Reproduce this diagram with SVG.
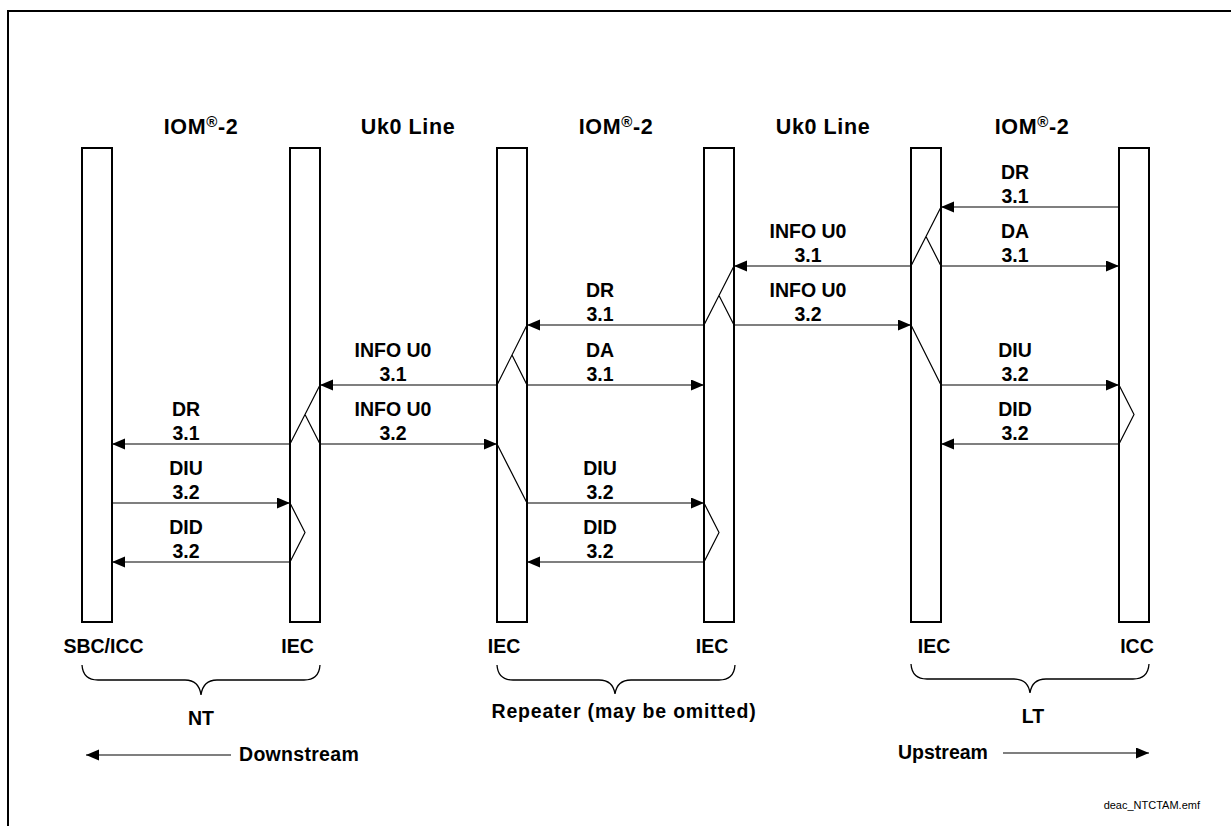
<svg xmlns="http://www.w3.org/2000/svg" width="1231" height="826" viewBox="0 0 1231 826">
<style>
  .bar{fill:#fff;stroke:#000;stroke-width:2}
  .ln{stroke:#000;stroke-width:1.2;fill:none}
  .ar{stroke:#000;stroke-width:1.2;fill:none;marker-end:url(#ah)}
  .br{stroke:#000;stroke-width:1.3;fill:none}
  text{font-family:"Liberation Sans",Arial,sans-serif;font-weight:bold;fill:#000}
  .hd{font-size:21.5px;letter-spacing:0.6px;text-anchor:middle}
  .lb{font-size:19.5px;text-anchor:middle}
  .nm{font-size:19.5px;text-anchor:middle}
  .ft{font-size:11px;font-weight:normal;text-anchor:end}
</style>
<defs>
  <marker id="ah" markerUnits="userSpaceOnUse" markerWidth="14" markerHeight="12" refX="13" refY="5.5" orient="auto">
    <path d="M0,0 L13,5.5 L0,11 z" fill="#000"/>
  </marker>
</defs>
<rect width="1231" height="826" fill="#fff"/>
<path d="M8,826 V11 H1231" fill="none" stroke="#000" stroke-width="2"/>

<g id="headers">
  <text class="hd" x="201" y="134">IOM<tspan font-size="15" dy="-7">®</tspan><tspan dy="7">-2</tspan></text>
  <text class="hd" x="408" y="134">Uk0 Line</text>
  <text class="hd" x="616" y="134">IOM<tspan font-size="15" dy="-7">®</tspan><tspan dy="7">-2</tspan></text>
  <text class="hd" x="823" y="134">Uk0 Line</text>
  <text class="hd" x="1032" y="134">IOM<tspan font-size="15" dy="-7">®</tspan><tspan dy="7">-2</tspan></text>
</g>

<g id="node-sbc-icc"><rect class="bar" x="82" y="148" width="30" height="474"/><text class="nm" x="103.5" y="653">SBC/ICC</text></g>
<g id="node-iec-nt"><rect class="bar" x="290" y="148" width="30" height="474"/><text class="nm" x="297.5" y="653">IEC</text></g>
<g id="node-iec-rep1"><rect class="bar" x="497" y="148" width="30" height="474"/><text class="nm" x="504" y="653">IEC</text></g>
<g id="node-iec-rep2"><rect class="bar" x="704" y="148" width="30" height="474"/><text class="nm" x="712" y="653">IEC</text></g>
<g id="node-iec-lt"><rect class="bar" x="911" y="148" width="30" height="474"/><text class="nm" x="934" y="653">IEC</text></g>
<g id="node-icc-lt"><rect class="bar" x="1119" y="148" width="30" height="474"/><text class="nm" x="1137" y="653">ICC</text></g>

<g id="connectors">
  <!-- internal diagonals -->
  <path class="ln" d="M911,266 L941,207 M926,236.5 L941,266 M911,325 L941,385"/>
  <path class="ln" d="M704,325 L734,266 M719,295.5 L734,325 M704,503 L719,532.5 L704,562"/>
  <path class="ln" d="M497,385 L527,325 M512,355 L527,385 M497,444 L527,503"/>
  <path class="ln" d="M290,444 L320,385 M305,414.5 L320,444 M290,503 L305,532.5 L290,562"/>
  <path class="ln" d="M1119,385 L1134,414.5 L1119,444"/>
  <!-- arrows -->
  <line class="ar" x1="1119" y1="207" x2="941" y2="207"/>
  <line class="ar" x1="911" y1="266" x2="734" y2="266"/>
  <line class="ar" x1="941" y1="266" x2="1119" y2="266"/>
  <line class="ar" x1="704" y1="325" x2="527" y2="325"/>
  <line class="ar" x1="734" y1="325" x2="911" y2="325"/>
  <line class="ar" x1="497" y1="385" x2="320" y2="385"/>
  <line class="ar" x1="527" y1="385" x2="704" y2="385"/>
  <line class="ar" x1="941" y1="385" x2="1119" y2="385"/>
  <line class="ar" x1="290" y1="444" x2="112" y2="444"/>
  <line class="ar" x1="320" y1="444" x2="497" y2="444"/>
  <line class="ar" x1="1119" y1="444" x2="941" y2="444"/>
  <line class="ar" x1="112" y1="503" x2="290" y2="503"/>
  <line class="ar" x1="527" y1="503" x2="704" y2="503"/>
  <line class="ar" x1="290" y1="562" x2="112" y2="562"/>
  <line class="ar" x1="704" y1="562" x2="527" y2="562"/>
  <!-- labels -->
  <g class="lbls">
    <text class="lb" x="1015" y="179">DR</text><text class="lb" x="1015" y="203">3.1</text>
    <text class="lb" x="808" y="238">INFO U0</text><text class="lb" x="808" y="262">3.1</text>
    <text class="lb" x="1015" y="238">DA</text><text class="lb" x="1015" y="262">3.1</text>
    <text class="lb" x="600" y="297">DR</text><text class="lb" x="600" y="321">3.1</text>
    <text class="lb" x="808" y="297">INFO U0</text><text class="lb" x="808" y="321">3.2</text>
    <text class="lb" x="393" y="357">INFO U0</text><text class="lb" x="393" y="381">3.1</text>
    <text class="lb" x="600" y="357">DA</text><text class="lb" x="600" y="381">3.1</text>
    <text class="lb" x="1015" y="357">DIU</text><text class="lb" x="1015" y="381">3.2</text>
    <text class="lb" x="186" y="416">DR</text><text class="lb" x="186" y="440">3.1</text>
    <text class="lb" x="393" y="416">INFO U0</text><text class="lb" x="393" y="440">3.2</text>
    <text class="lb" x="1015" y="416">DID</text><text class="lb" x="1015" y="440">3.2</text>
    <text class="lb" x="186" y="475">DIU</text><text class="lb" x="186" y="499">3.2</text>
    <text class="lb" x="600" y="475">DIU</text><text class="lb" x="600" y="499">3.2</text>
    <text class="lb" x="186" y="534">DID</text><text class="lb" x="186" y="558">3.2</text>
    <text class="lb" x="600" y="534">DID</text><text class="lb" x="600" y="558">3.2</text>
  </g>
</g>

<g id="groups">
  <path class="br" d="M82,665 Q83,680 98,680 H185 Q199,680 201,695 Q203,680 217,680 H304 Q319,680 320,665"/>
  <text class="nm" x="201" y="725">NT</text>
  <path class="br" d="M497,665 Q498,680 513,680 H599 Q613,680 615,694 Q617,680 631,680 H719 Q734,680 735,665"/>
  <text class="nm" x="624" y="718" style="letter-spacing:0.8px">Repeater (may be omitted)</text>
  <path class="br" d="M911,664 Q912,679 927,679 H1014 Q1028,679 1030,693 Q1032,679 1046,679 H1133 Q1148,679 1149,664"/>
  <text class="nm" x="1033" y="723">LT</text>
</g>

<g id="directions">
  <line class="ar" x1="231" y1="755" x2="86" y2="755"/>
  <text x="239" y="761" style="font-size:19.5px;letter-spacing:0.3px">Downstream</text>
  <text x="898" y="759" style="font-size:19.5px">Upstream</text>
  <line class="ar" x1="1003" y1="753" x2="1149" y2="753"/>
</g>

<text class="ft" x="1200" y="809">deac_NTCTAM.emf</text>
</svg>
